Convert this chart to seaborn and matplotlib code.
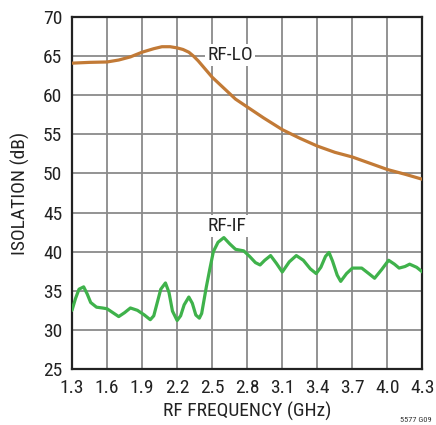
import matplotlib
matplotlib.use("Agg")
import matplotlib.pyplot as plt
import numpy as np
import pandas as pd
import seaborn as sns
from matplotlib import font_manager

# RF-to-IF isolation vs RF frequency
rf_if_freq = [1.30, 1.33, 1.36, 1.40, 1.43, 1.46, 1.51, 1.56, 1.60, 1.65, 1.70, 1.75,
              1.80, 1.86, 1.92, 1.97, 2.00, 2.03, 2.06, 2.10, 2.13, 2.16, 2.20, 2.23,
              2.26, 2.30, 2.33, 2.36, 2.39, 2.41, 2.43, 2.45, 2.48, 2.51, 2.55, 2.60,
              2.65, 2.70, 2.77, 2.82, 2.87, 2.91, 2.95, 3.00, 3.05, 3.10, 3.16, 3.22,
              3.28, 3.34, 3.39, 3.43, 3.47, 3.50, 3.53, 3.57, 3.60, 3.65, 3.70, 3.78,
              3.84, 3.89, 3.95, 4.01, 4.06, 4.10, 4.15, 4.19, 4.25, 4.30]
rf_if_db = [32.5, 34.0, 35.2, 35.5, 34.6, 33.5, 32.9, 32.8, 32.7, 32.2, 31.7, 32.2,
            32.8, 32.5, 31.9, 31.3, 31.8, 33.5, 35.2, 36.0, 34.8, 32.4, 31.2, 31.8,
            33.2, 34.2, 33.4, 31.9, 31.5, 32.1, 33.8, 35.5, 37.8, 40.0, 41.2, 41.8,
            41.0, 40.3, 40.1, 39.4, 38.6, 38.3, 38.9, 39.5, 38.5, 37.4, 38.7, 39.5,
            38.9, 37.8, 37.2, 38.0, 39.4, 39.9, 38.8, 37.0, 36.2, 37.2, 37.9, 37.9,
            37.2, 36.6, 37.7, 38.9, 38.4, 37.9, 38.1, 38.4, 38.0, 37.4]

# RF-to-LO isolation vs RF frequency
rf_lo_freq = [1.30, 1.45, 1.60, 1.70, 1.80, 1.90, 2.00, 2.07, 2.14, 2.20, 2.25, 2.30,
              2.34, 2.38, 2.42, 2.46, 2.50, 2.55, 2.60, 2.70, 2.80, 2.94, 3.10, 3.25,
              3.40, 3.55, 3.70, 3.85, 4.00, 4.15, 4.30]
rf_lo_db = [64.1, 64.2, 64.25, 64.5, 64.9, 65.5, 65.95, 66.2, 66.2, 66.05, 65.85, 65.5,
            65.0, 64.4, 63.7, 63.0, 62.3, 61.6, 60.9, 59.5, 58.5, 57.1, 55.6, 54.5,
            53.5, 52.7, 52.1, 51.3, 50.5, 49.9, 49.25]

x_ticks = [1.3, 1.6, 1.9, 2.2, 2.5, 2.8, 3.1, 3.4, 3.7, 4.0, 4.3]
x_tick_labels = ["1.3", "1.6", "1.9", "2.2", "2.5", "2.8", "3.1", "3.4", "3.7", "4.0", "4.3"]
y_ticks = [25, 30, 35, 40, 45, 50, 55, 60, 65, 70]

sns.set_style("white")
installed = {f.name for f in font_manager.fontManager.ttflist}
family = ["Liberation Sans Narrow", "Roboto Condensed", "Roboto", "DejaVu Sans"]
family = [f for f in family if f in installed] or ["DejaVu Sans"]
plt.rcParams["font.family"] = family

LO_COLOR = "#c27a36"
IF_COLOR = "#3fb24b"
GRID_COLOR = "#8a8a8a"
TEXT_COLOR = "#222222"
FS = 14

fig = plt.figure(figsize=(4.36, 4.25), dpi=100)
ax = fig.add_axes([0.1651, 0.1318, 0.8039, 0.8282])

lo_df = pd.DataFrame({"freq": rf_lo_freq, "iso": rf_lo_db})
if_df = pd.DataFrame({"freq": rf_if_freq, "iso": rf_if_db})
sns.lineplot(data=lo_df, x="freq", y="iso", ax=ax, color=LO_COLOR, lw=2.3,
             estimator=None, sort=False, zorder=3, solid_joinstyle="round",
             solid_capstyle="round")
sns.lineplot(data=if_df, x="freq", y="iso", ax=ax, color=IF_COLOR, lw=2.3,
             estimator=None, sort=False, zorder=3, solid_joinstyle="round",
             solid_capstyle="round")

ax.set_xlim(1.3, 4.3)
ax.set_ylim(25, 70)
ax.set_xticks(x_ticks)
ax.set_xticklabels(x_tick_labels)
ax.set_yticks(y_ticks)
ax.grid(True, color=GRID_COLOR, lw=1.3)
ax.set_axisbelow(True)
ax.tick_params(length=0, labelsize=FS, colors=TEXT_COLOR)
ax.tick_params(axis="y", pad=7)
ax.tick_params(axis="x", pad=7)
for s in ax.spines.values():
    s.set_visible(True)
    s.set_color(TEXT_COLOR)
    s.set_linewidth(1.6)

ax.set_xlabel("RF FREQUENCY (GHz)", fontsize=FS, color=TEXT_COLOR, labelpad=4)
ax.set_ylabel("ISOLATION (dB)", fontsize=FS, color=TEXT_COLOR, labelpad=9)

# curve labels sit on white patches that hide the grid but not the curves
box = dict(facecolor="white", edgecolor="none", pad=1.5)
ax.text(2.46, 65.1, "RF-LO", fontsize=FS, ha="left", va="center",
        color=TEXT_COLOR, bbox=box, zorder=2.5)
ax.text(2.46, 43.3, "RF-IF", fontsize=FS, ha="left", va="center",
        color=TEXT_COLOR, bbox=box, zorder=2.5)

fig.text(0.99, 0.005, "5577 G09", fontsize=6, ha="right", va="bottom", color="#333333")

fig.savefig("out.png", dpi=100)
